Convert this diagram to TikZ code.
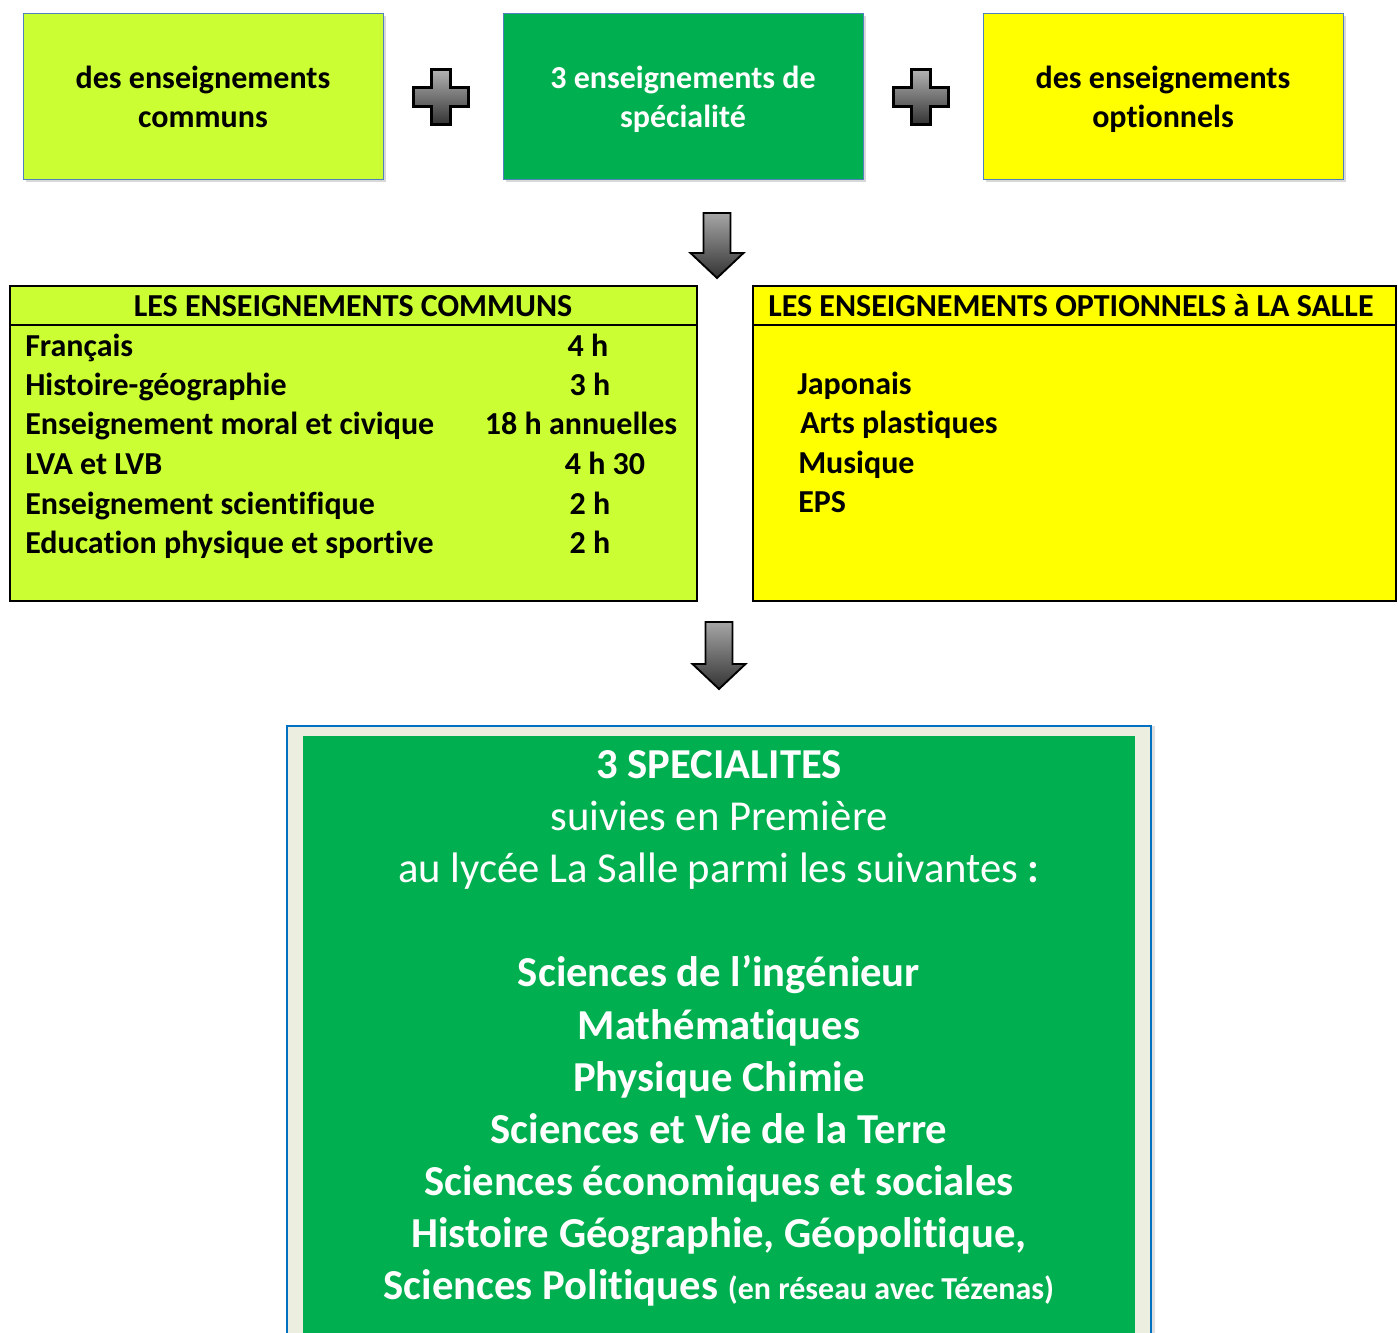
\documentclass[tikz,border=0pt]{standalone}
\usepackage{fontspec}
\setmainfont{Carlito}[RawFeature={-liga;-clig;-calt;-dlig}]
\usepackage{tikz}
\usetikzlibrary{shadows}
\definecolor{C}{RGB}{204,255,51}
\definecolor{S}{RGB}{0,176,80}
\definecolor{O}{RGB}{255,255,0}
\definecolor{F}{RGB}{236,238,223}
\definecolor{B}{RGB}{0,112,192}
\definecolor{E}{RGB}{79,129,189}
\newcommand{\plussign}[2]{\draw[line width=1.6pt, top color=black!30, bottom color=black!80] (#1-27.5,#2-9.5)--++(18,0)--++(0,-18)--++(19,0)--++(0,18)--++(18,0)--++(0,19)--++(-18,0)--++(0,18)--++(-19,0)--++(0,-18)--++(-18,0)--cycle;}
\newcommand{\downblock}[3]{\draw[line width=1.4pt, top color=black!35, bottom color=black!80] (#1-13.5,#2)--++(27,0)--++(0,#3)--++(13,0)--++(-26.5,25)--++(-26.5,-25)--++(13,0)--cycle;}
\newcommand{\drawpanel}{\draw[line width=1.5pt]}

\begin{document}
\begin{tikzpicture}[x=0.75pt,y=-0.75pt,
  topbox/.style={draw=E, line width=0.75pt, minimum width=270pt, minimum height=125pt, inner sep=0pt, align=center,
    text depth=0pt, font=\fontsize{24}{29.25}\selectfont\bfseries, drop shadow={opacity=0.3, shadow xshift=2pt, shadow yshift=-2pt}},
  item/.style={anchor=base west, inner sep=0pt, font=\fontsize{24}{29.25}\selectfont\bfseries},
  hours/.style={anchor=base, inner sep=0pt, font=\fontsize{24}{29.25}\selectfont\bfseries},
  spec/.style={anchor=base, inner sep=0pt, text=white, font=\fontsize{32}{39}\selectfont\bfseries},
  specthin/.style={anchor=base, inner sep=0pt, text=white, font=\fontsize{32}{39}\selectfont}]
\clip (0,0) rectangle (1398,1333);
\fill[white] (0,0) rectangle (1398,1333);

% top row
\node[topbox, fill=C] (communs) at (203,96.5) {des enseignements\\communs};
\node[topbox, fill=S, text=white] (specialite) at (683,96.5) {3 enseignements de\\spécialité};
\node[topbox, fill=O] (optionnels) at (1163,96.5) {des enseignements\\optionnels};
\plussign{441}{97}
\plussign{921}{97}
\downblock{717}{213}{40}

% middle panels
\drawpanel[fill=C] (10,286) rectangle (697,601);
\drawpanel (10,325)--(697,325);
\drawpanel[fill=O] (753,286) rectangle (1396,601);
\drawpanel (753,325)--(1396,325);
\node[hours] (titlecommuns) at (353,317) {LES ENSEIGNEMENTS COMMUNS};
\node[item] (titleoptions) at (768,317) {LES ENSEIGNEMENTS OPTIONNELS à LA SALLE};

\node[item] (fr) at (25,357) {Français};
\node[item] (hg) at (25,396) {Histoire-géographie};
\node[item] (emc) at (25,435) {Enseignement moral et civique};
\node[item] (lv) at (25,474) {LVA et LVB};
\node[item] (es) at (25,514) {Enseignement scientifique};
\node[item] (eps) at (25,553) {Education physique et sportive};
\node[hours] (frh) at (588,357) {4 h};
\node[hours] (hgh) at (590,396) {3 h};
\node[hours] (emch) at (581,435) {18 h annuelles};
\node[hours] (lvh) at (605,474) {4 h 30};
\node[hours] (esh) at (590,514) {2 h};
\node[hours] (epsh) at (590,553) {2 h};

\node[item] (jap) at (797,395) {Japonais};
\node[item] (arts) at (800,434) {Arts plastiques};
\node[item] (mus) at (798,473) {Musique};
\node[item] (sport) at (798,512) {EPS};

\downblock{719}{622}{42}

% bottom panel
\draw[line width=1.5pt, draw=B, fill=F, drop shadow={opacity=0.25, shadow xshift=3pt, shadow yshift=0pt}] (287,726) rectangle (1151,1345);
\fill[S] (303,736) rectangle (1135,1345);
\node[spec] (trois) at (719,778) {3 SPECIALITES};
\node[specthin] (suivies) at (719,830) {suivies en Première};
\node[specthin] (lycee) at (719,882) {au lycée La Salle parmi les suivantes \textbf{:}};
\node[spec] (si) at (719,986) {Sciences de l’ingénieur};
\node[spec] (maths) at (719,1039) {Mathématiques};
\node[spec] (pc) at (719,1091) {Physique Chimie};
\node[spec] (svt) at (719,1143) {Sciences et Vie de la Terre};
\node[spec] (ses) at (719,1195) {Sciences économiques et sociales};
\node[spec] (hggsp) at (719,1247) {Histoire Géographie, Géopolitique,};
\node[spec] (scpo) at (719,1299) {Sciences Politiques {\fontsize{24}{29}\selectfont(en réseau avec Tézenas)}};
\end{tikzpicture}
\end{document}
